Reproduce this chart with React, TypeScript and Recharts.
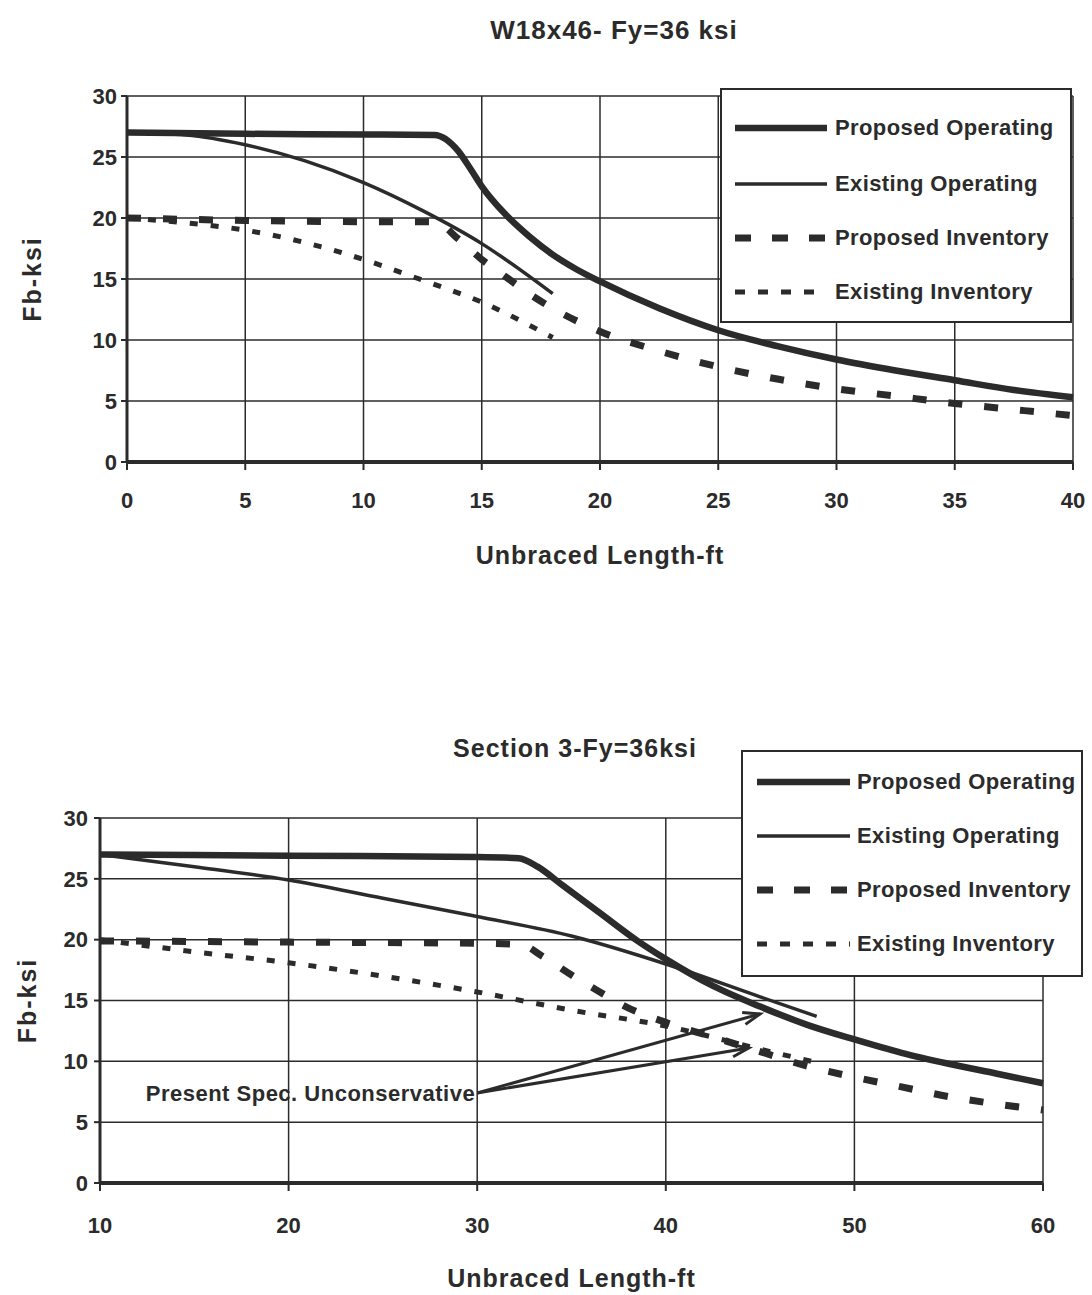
import { CartesianGrid, Label, Legend, Line, LineChart, ReferenceDot, ReferenceLine, XAxis, YAxis } from "recharts";

const INK = "#2b2b2b";
const FONT = '"Liberation Sans", Arial, sans-serif';

// W18x46 - Fy=36 ksi : unbraced length (ft) vs Fb (ksi)
const w18PropOpX = [0, 5, 10, 13, 14, 14.5, 15, 16, 17, 18, 19, 20, 22.5, 25, 27.5, 30, 32.5, 35, 37.5, 40];
const w18PropOpY = [27, 26.9, 26.85, 26.8, 25.5, 24.1, 22.6, 20.3, 18.5, 17.0, 15.8, 14.8, 12.6, 10.8, 9.5, 8.4, 7.5, 6.7, 5.9, 5.3];
const w18ExistOpX = [0, 2.5, 5, 7.5, 10, 12.5, 15, 18];
const w18ExistOpY = [27, 26.8, 26.0, 24.7, 22.9, 20.6, 17.9, 13.8];
const w18PropInvX = [0, 5, 10, 13, 14, 15, 16, 17, 18, 20, 22.5, 25, 27.5, 30, 32.5, 35, 37.5, 40];
const w18PropInvY = [20, 19.8, 19.7, 19.7, 18.3, 16.6, 15.2, 13.8, 12.6, 10.7, 9.1, 7.8, 6.8, 6.0, 5.4, 4.8, 4.3, 3.8];
const w18ExistInvX = [0, 2.5, 5, 7.5, 10, 12.5, 15, 18];
const w18ExistInvY = [20, 19.6, 19.0, 18.0, 16.6, 14.9, 13.1, 10.2];

// Section 3 - Fy=36ksi
const s3PropOpX = [10, 20, 30, 32.2, 33.2, 34.5, 36.5, 38.5, 40, 42.5, 45, 47.5, 50, 52.5, 55, 57.5, 60];
const s3PropOpY = [27, 26.9, 26.8, 26.7, 26.0, 24.5, 22.2, 19.9, 18.4, 16.2, 14.5, 13.0, 11.8, 10.7, 9.8, 9.0, 8.2];
const s3ExistOpX = [10, 15, 20, 25, 30, 35, 40, 45, 48];
const s3ExistOpY = [27, 26.0, 24.9, 23.4, 21.9, 20.3, 18.0, 15.3, 13.7];
const s3PropInvX = [10, 20, 30, 32.3, 33.5, 35, 36.5, 38, 40, 42.5, 45, 47.5, 50, 52.5, 55, 57.5, 60];
const s3PropInvY = [19.9, 19.8, 19.7, 19.6, 18.6, 17.1, 15.7, 14.4, 13.2, 12.0, 10.8, 9.6, 8.7, 7.9, 7.1, 6.5, 6.0];
const s3ExistInvX = [10, 15, 20, 25, 30, 35, 40, 45, 48];
const s3ExistInvY = [20, 19.0, 18.1, 17.0, 15.7, 14.2, 12.9, 11.0, 9.9];

const w18XTicks = [0, 5, 10, 15, 20, 25, 30, 35, 40];
const s3XTicks = [10, 20, 30, 40, 50, 60];
const fbTicks = [0, 5, 10, 15, 20, 25, 30];

const noteAt = { x: 30, y: 7.4 };
const noteTargets = [
  { x: 45, y: 13.9 },
  { x: 44.4, y: 11.1 },
];

const STYLES = [
  { name: "Proposed Operating", width: 6.5, dash: undefined, legendDash: undefined },
  { name: "Existing Operating", width: 3.5, dash: undefined, legendDash: undefined },
  { name: "Proposed Inventory", width: 7, dash: "14 22", legendDash: "16 21" },
  { name: "Existing Inventory", width: 5, dash: "8 13", legendDash: "10 13" },
];

const pts = (xs: number[], ys: number[]) => xs.map((x, i) => ({ x, fb: ys[i] }));

const tickStyle = { fill: INK, fontSize: 22, fontWeight: 700, fontFamily: FONT };

const LegendBox = ({ rows, sampleX, sampleW, textX }: { rows: number[]; sampleX: number; sampleW: number; textX: number }) => (
  <div
    style={{
      width: "100%",
      height: "100%",
      border: `2px solid ${INK}`,
      background: "#fff",
      boxSizing: "border-box",
      position: "relative",
    }}
  >
    {STYLES.map((s, i) => (
      <div key={s.name} style={{ position: "absolute", left: 0, top: rows[i] - 17, height: 30, width: "100%" }}>
        <svg style={{ position: "absolute", left: sampleX, top: 0 }} width={sampleW} height={30}>
          <line x1={0} y1={15} x2={sampleW} y2={15} stroke={INK} strokeWidth={s.width} strokeDasharray={s.legendDash} />
        </svg>
        <span
          style={{
            position: "absolute",
            left: textX,
            top: 0,
            lineHeight: "30px",
            fontSize: 22,
            letterSpacing: 0.4,
            fontWeight: 700,
            fontFamily: FONT,
            color: INK,
            whiteSpace: "nowrap",
          }}
        >
          {s.name}
        </span>
      </div>
    ))}
  </div>
);

const XTitle = ({ viewBox, dy }: any) => (
  <text
    x={viewBox.x + viewBox.width / 2}
    y={viewBox.y + dy}
    textAnchor="middle"
    fill={INK}
    fontSize={25}
    letterSpacing={1}
    fontWeight={700}
    fontFamily={FONT}
  >
    Unbraced Length-ft
  </text>
);

const YTitle = ({ viewBox, dx }: any) => {
  const cx = viewBox.x + dx;
  const cy = viewBox.y + viewBox.height / 2;
  return (
    <text
      x={cx}
      y={cy}
      transform={`rotate(-90 ${cx} ${cy})`}
      textAnchor="middle"
      dominantBaseline="central"
      fill={INK}
      fontSize={25}
      letterSpacing={2}
      fontWeight={700}
      fontFamily={FONT}
    >
      Fb-ksi
    </text>
  );
};

const Arrow = (p: any) => {
  const { x1, y1, x2, y2 } = p;
  const a = Math.atan2(y2 - y1, x2 - x1);
  const L = 18;
  const h1x = x2 - L * Math.cos(a - 0.35);
  const h1y = y2 - L * Math.sin(a - 0.35);
  const h2x = x2 - L * Math.cos(a + 0.35);
  const h2y = y2 - L * Math.sin(a + 0.35);
  return (
    <g>
      <line x1={x1} y1={y1} x2={x2} y2={y2} stroke={INK} strokeWidth={3} />
      <polyline points={`${h1x},${h1y} ${x2},${y2} ${h2x},${h2y}`} fill="none" stroke={INK} strokeWidth={3} />
    </g>
  );
};

const series = (sets: Array<{ x: number; fb: number }[]>) =>
  sets.map((d, i) => (
    <Line
      key={STYLES[i].name}
      name={STYLES[i].name}
      data={d}
      dataKey="fb"
      type="monotone"
      stroke={INK}
      strokeWidth={STYLES[i].width}
      strokeDasharray={STYLES[i].dash}
      dot={false}
      activeDot={false}
      isAnimationActive={false}
    />
  ));

const titleStyle = (left: number, top: number, size: number) => ({
  position: "absolute" as const,
  left,
  top,
  transform: "translate(-50%, -50%)",
  fontFamily: FONT,
  fontWeight: 700,
  fontSize: size,
  letterSpacing: 1,
  color: INK,
  whiteSpace: "nowrap" as const,
});

export default function App() {
  return (
    <div style={{ position: "absolute", left: 0, top: 0, width: 1092, height: 1295, background: "#fff" }}>
      <div style={titleStyle(614, 30, 26)}>W18x46- Fy=36 ksi</div>
      <div style={{ position: "absolute", left: 0, top: 0 }}>
        <LineChart width={1092} height={600} margin={{ top: 96, right: 19, bottom: 28, left: 17 }}>
          <CartesianGrid stroke={INK} strokeWidth={1.5} />
          <XAxis
            dataKey="x"
            type="number"
            domain={[0, 40]}
            ticks={w18XTicks}
            height={110}
            tick={tickStyle}
            tickSize={8}
            tickMargin={22}
            axisLine={{ stroke: INK, strokeWidth: 4 }}
            tickLine={{ stroke: INK, strokeWidth: 2 }}
          >
            <Label content={(p: any) => <XTitle viewBox={p.viewBox} dy={102} />} />
          </XAxis>
          <YAxis
            type="number"
            domain={[0, 30]}
            ticks={fbTicks}
            width={110}
            tick={tickStyle}
            tickSize={6}
            tickMargin={4}
            axisLine={{ stroke: INK, strokeWidth: 3 }}
            tickLine={{ stroke: INK, strokeWidth: 2 }}
          >
            <Label content={(p: any) => <YTitle viewBox={p.viewBox} dx={15} />} />
          </YAxis>
          {series([
            pts(w18PropOpX, w18PropOpY),
            pts(w18ExistOpX, w18ExistOpY),
            pts(w18PropInvX, w18PropInvY),
            pts(w18ExistInvX, w18ExistInvY),
          ])}
          <Legend
            layout="vertical"
            align="center"
            verticalAlign="middle"
            width={352}
            height={235}
            wrapperStyle={{ left: 720, top: 88, width: 352, height: 235 }}
            content={() => <LegendBox rows={[40, 96, 150, 204]} sampleX={13} sampleW={92} textX={113} />}
          />
        </LineChart>
      </div>

      <div style={titleStyle(575, 748, 25)}>Section 3-Fy=36ksi</div>
      <div style={{ position: "absolute", left: 0, top: 620 }}>
        <LineChart width={1092} height={675} margin={{ top: 198, right: 49, bottom: 2, left: 12 }}>
          <CartesianGrid stroke={INK} strokeWidth={1.5} />
          <XAxis
            dataKey="x"
            type="number"
            domain={[10, 60]}
            ticks={s3XTicks}
            height={110}
            tick={tickStyle}
            tickSize={8}
            tickMargin={26}
            axisLine={{ stroke: INK, strokeWidth: 4 }}
            tickLine={{ stroke: INK, strokeWidth: 2 }}
          >
            <Label content={(p: any) => <XTitle viewBox={p.viewBox} dy={104} />} />
          </XAxis>
          <YAxis
            type="number"
            domain={[0, 30]}
            ticks={fbTicks}
            width={88}
            tick={tickStyle}
            tickSize={6}
            tickMargin={6}
            axisLine={{ stroke: INK, strokeWidth: 3 }}
            tickLine={{ stroke: INK, strokeWidth: 2 }}
          >
            <Label content={(p: any) => <YTitle viewBox={p.viewBox} dx={15} />} />
          </YAxis>
          {series([
            pts(s3PropOpX, s3PropOpY),
            pts(s3ExistOpX, s3ExistOpY),
            pts(s3PropInvX, s3PropInvY),
            pts(s3ExistInvX, s3ExistInvY),
          ])}
          {noteTargets.map((t, i) => (
            <ReferenceLine key={i} segment={[noteAt, t]} shape={Arrow} />
          ))}
          <ReferenceDot
            x={noteAt.x}
            y={noteAt.y}
            r={0}
            fill="none"
            stroke="none"
            label={{
              value: "Present  Spec. Unconservative",
              position: "left",
              offset: 2,
              fill: INK,
              fontSize: 22,
              letterSpacing: 0.5,
              fontWeight: 700,
              fontFamily: FONT,
            }}
          />
          <Legend
            layout="vertical"
            align="center"
            verticalAlign="middle"
            width={342}
            height={227}
            wrapperStyle={{ left: 741, top: 130, width: 342, height: 227 }}
            content={() => <LegendBox rows={[32, 86, 140, 194]} sampleX={14} sampleW={93} textX={114} />}
          />
        </LineChart>
      </div>
    </div>
  );
}
